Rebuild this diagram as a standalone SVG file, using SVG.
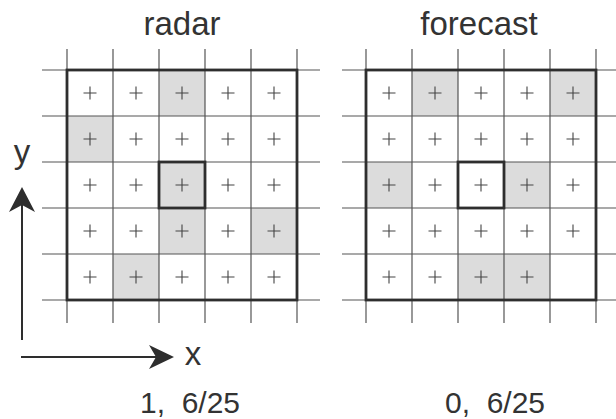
<svg xmlns="http://www.w3.org/2000/svg" width="616" height="419" viewBox="0 0 616 419">
<style>
.bg{fill:#ffffff}
.sh{fill:#dcdcdc}
.gl{stroke:#555;stroke-width:1.2;fill:none}
.fr{stroke:#2e2e2e;stroke-width:2.8;fill:none}
.pl{stroke:#444;stroke-width:1.1;fill:none}
.t{font-family:"Liberation Sans",Arial,sans-serif;fill:#333;text-anchor:middle;white-space:pre}
.ax{stroke:#2e2e2e;stroke-width:2;fill:none}
.ah{fill:#2e2e2e}
</style>
<defs>
<path id="p" d="M-6.5,0H6.5M0,-6.5V6.5" class="pl"/>
</defs>
<rect class="bg" x="0" y="0" width="616" height="419"/>

<g id="radar">
<text class="t" x="182" y="35" font-size="33">radar</text>
<g id="radar-shade">
<rect class="sh" x="159" y="70" width="46" height="46"/>
<rect class="sh" x="67" y="116" width="46" height="46"/>
<rect class="sh" x="159" y="162" width="46" height="46"/>
<rect class="sh" x="159" y="208" width="46" height="46"/>
<rect class="sh" x="251" y="208" width="46" height="46"/>
<rect class="sh" x="113" y="254" width="46" height="46"/>
</g>
<g id="radar-grid" class="gl">
<path d="M67,49V323M113,49V323M159,49V323M205,49V323M251,49V323M297,49V323"/>
<path d="M42,70H320M42,116H320M42,162H320M42,208H320M42,254H320M42,300H320"/>
</g>
<g id="radar-plus">
<use href="#p" x="90" y="93"/><use href="#p" x="136" y="93"/><use href="#p" x="182" y="93"/><use href="#p" x="228" y="93"/><use href="#p" x="274" y="93"/>
<use href="#p" x="90" y="139"/><use href="#p" x="136" y="139"/><use href="#p" x="182" y="139"/><use href="#p" x="228" y="139"/><use href="#p" x="274" y="139"/>
<use href="#p" x="90" y="185"/><use href="#p" x="136" y="185"/><use href="#p" x="182" y="185"/><use href="#p" x="228" y="185"/><use href="#p" x="274" y="185"/>
<use href="#p" x="90" y="231"/><use href="#p" x="136" y="231"/><use href="#p" x="182" y="231"/><use href="#p" x="228" y="231"/><use href="#p" x="274" y="231"/>
<use href="#p" x="90" y="277"/><use href="#p" x="136" y="277"/><use href="#p" x="182" y="277"/><use href="#p" x="228" y="277"/><use href="#p" x="274" y="277"/>
</g>
<rect class="fr" x="67" y="70" width="230" height="230"/>
<rect class="fr" x="159" y="162" width="46" height="46"/>
<text class="t" x="190" y="413" font-size="30" xml:space="preserve">1,  6/25</text>
</g>

<g id="forecast">
<text class="t" x="479" y="35" font-size="33">forecast</text>
<g id="forecast-shade">
<rect class="sh" x="412" y="70" width="46" height="46"/>
<rect class="sh" x="550" y="70" width="46" height="46"/>
<rect class="sh" x="366" y="162" width="46" height="46"/>
<rect class="sh" x="504" y="162" width="46" height="46"/>
<rect class="sh" x="458" y="254" width="46" height="46"/>
<rect class="sh" x="504" y="254" width="46" height="46"/>
</g>
<g id="forecast-grid" class="gl">
<path d="M366,49V323M412,49V323M458,49V323M504,49V323M550,49V323M596,49V323"/>
<path d="M342,70H616M342,116H616M342,162H616M342,208H616M342,254H616M342,300H616"/>
</g>
<g id="forecast-plus">
<use href="#p" x="389" y="93"/><use href="#p" x="435" y="93"/><use href="#p" x="481" y="93"/><use href="#p" x="527" y="93"/><use href="#p" x="573" y="93"/>
<use href="#p" x="389" y="139"/><use href="#p" x="435" y="139"/><use href="#p" x="481" y="139"/><use href="#p" x="527" y="139"/><use href="#p" x="573" y="139"/>
<use href="#p" x="389" y="185"/><use href="#p" x="435" y="185"/><use href="#p" x="481" y="185"/><use href="#p" x="527" y="185"/><use href="#p" x="573" y="185"/>
<use href="#p" x="389" y="231"/><use href="#p" x="435" y="231"/><use href="#p" x="481" y="231"/><use href="#p" x="527" y="231"/><use href="#p" x="573" y="231"/>
<use href="#p" x="389" y="277"/><use href="#p" x="435" y="277"/><use href="#p" x="481" y="277"/><use href="#p" x="527" y="277"/>
</g>
<rect class="fr" x="366" y="70" width="230" height="230"/>
<rect class="fr" x="458" y="162" width="46" height="46"/>
<text class="t" x="495" y="413" font-size="30" xml:space="preserve">0,  6/25</text>
</g>

<g id="connectors">
<path class="ax" d="M22,340V200"/>
<path class="ah" d="M22,187L35,212L22,205L9,212Z"/>
<path class="ax" d="M21,357H160"/>
<path class="ah" d="M174,357L149,345L156,357L149,369Z"/>
</g>
<g id="axis-labels">
<text class="t" x="22" y="163" font-size="33">y</text>
<text class="t" x="193" y="365" font-size="33">x</text>
</g>
</svg>
